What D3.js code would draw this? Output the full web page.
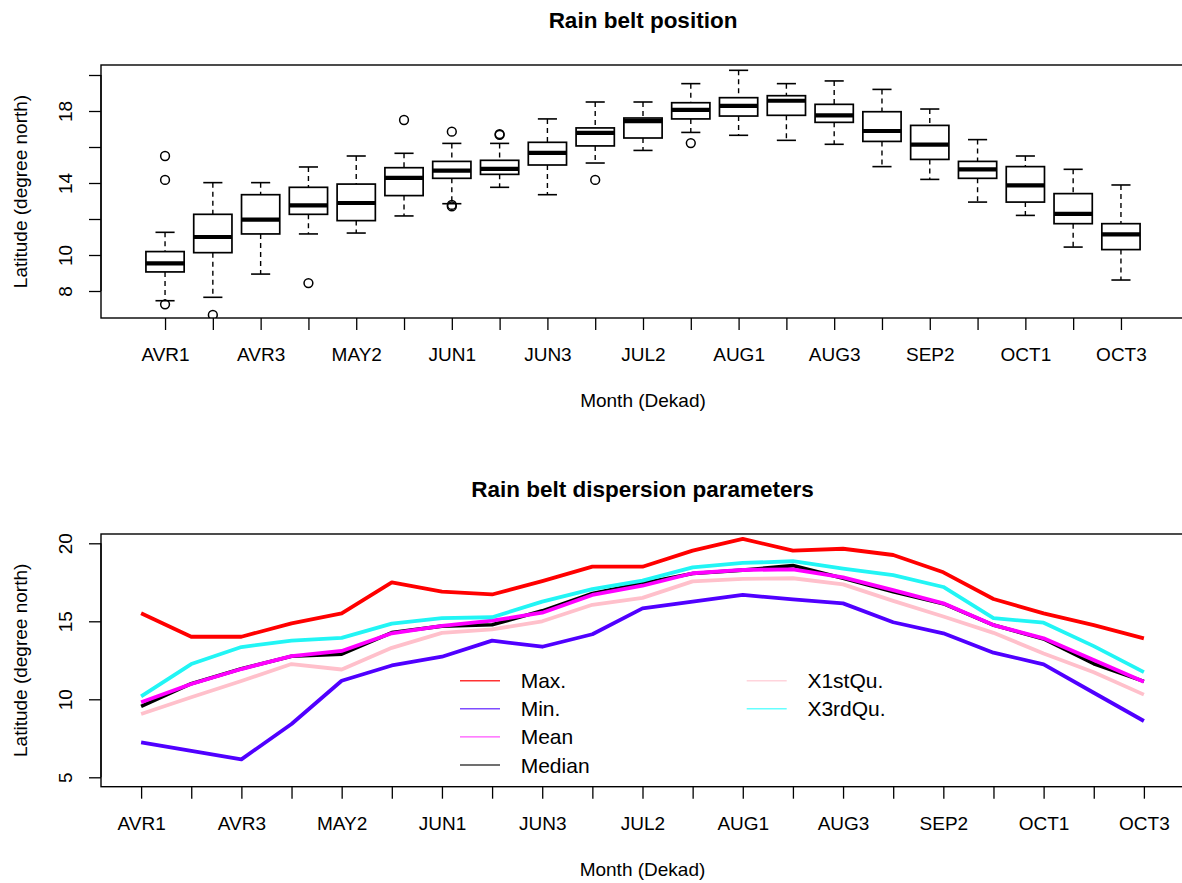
<!DOCTYPE html>
<html>
<head>
<meta charset="utf-8">
<script src="https://cdn.jsdelivr.net/npm/d3@7"></script>
<style>
  html, body { margin: 0; padding: 0; background: #fff; }
  svg { display: block; font-family: "Liberation Sans", Arial, Helvetica, sans-serif; }
</style>
</head>
<body>
<svg id="chart" width="1182" height="883"></svg>
<script>
// Dekads from April to October
const dekads = ["AVR1","AVR2","AVR3","MAY1","MAY2","MAY3","JUN1","JUN2","JUN3","JUL1","JUL2","JUL3",
                "AUG1","AUG2","AUG3","SEP1","SEP2","SEP3","OCT1","OCT2","OCT3"];

// Box plot statistics (latitude, degrees north)
const whiskerLow  = [7.46, 7.65, 8.94, 11.17, 11.22, 12.17, 12.85, 13.76, 13.35, 15.11, 15.81, 16.81, 16.65, 16.37, 16.15, 14.91, 14.20, 12.94, 12.20, 10.44, 8.61];
const q1          = [9.06, 10.13, 11.17, 12.26, 11.91, 13.30, 14.26, 14.48, 15.00, 16.06, 16.50, 17.56, 17.72, 17.76, 17.37, 16.31, 15.31, 14.26, 12.94, 11.74, 10.30];
const median      = [9.54, 11.00, 11.96, 12.76, 12.89, 14.28, 14.69, 14.78, 15.67, 16.78, 17.44, 18.06, 18.28, 18.57, 17.76, 16.89, 16.13, 14.76, 13.87, 12.28, 11.15];
const q3          = [10.19, 12.26, 13.35, 13.76, 13.94, 14.85, 15.20, 15.26, 16.26, 17.06, 17.61, 18.46, 18.74, 18.85, 18.37, 17.96, 17.20, 15.20, 14.91, 13.41, 11.74];
const whiskerHigh = [11.26, 14.02, 14.02, 14.89, 15.50, 15.65, 16.20, 16.20, 17.56, 18.50, 18.50, 19.52, 20.26, 19.52, 19.67, 19.20, 18.11, 16.41, 15.50, 14.76, 13.89];
// Outliers as [dekad index, latitude]
const outliers = [[0, 15.50], [0, 14.17], [0, 7.26], [1, 6.67], [2, 6.15], [3, 8.44], [5, 17.50],
                  [6, 16.85], [6, 12.78], [6, 12.70], [7, 16.72], [7, 16.67], [9, 14.17], [11, 16.22]];

// Dispersion parameters
const maxVals  = [15.51, 14.01, 14.01, 14.87, 15.51, 17.50, 16.90, 16.72, 17.58, 18.50, 18.50, 19.53, 20.28, 19.53, 19.65, 19.25, 18.14, 16.43, 15.51, 14.76, 13.91];
const minVals  = [7.24, 6.69, 6.15, 8.42, 11.19, 12.17, 12.73, 13.76, 13.37, 14.17, 15.83, 16.26, 16.69, 16.40, 16.15, 14.94, 14.23, 12.99, 12.24, 10.42, 8.61];
const meanVals = [9.81, 10.98, 11.94, 12.77, 13.10, 14.23, 14.70, 15.04, 15.55, 16.69, 17.28, 18.08, 18.29, 18.33, 17.82, 17.00, 16.15, 14.76, 13.91, 12.52, 11.13];

// Axis ticks
const topYTicks = [8, 10, 12, 14, 16, 18, 20];
const topYLabels = [8, 10, 14, 18];
const bottomYTicks = [5, 10, 15, 20];
const xLabelEvery = 2;

const series = [
  { name: "Min.",    values: minVals,  color: "#5000ff", legendColor: "#7f4dff" },
  { name: "X1stQu.", values: q1,       color: "#ffc0cb", legendColor: "#ffd4dc" },
  { name: "Median",  values: median,   color: "#000000", legendColor: "#404040" },
  { name: "Mean",    values: meanVals, color: "#ff00ff", legendColor: "#ff55ff" },
  { name: "X3rdQu.", values: q3,       color: "#22f5f5", legendColor: "#66ffff" },
  { name: "Max.",    values: maxVals,  color: "#ff0000", legendColor: "#ff3333" }
];
const legendOrder = ["Max.", "Min.", "Mean", "Median", "X1stQu.", "X3rdQu."];

const svg = d3.select("#chart");
svg.append("rect").attr("width", 1182).attr("height", 883).attr("fill", "#fff");

const FS = 19;
const idx = d3.range(1, dekads.length + 1);

// ---------- Panel 1: box plots ----------
const p1 = { left: 101, right: 1185, top: 65, bottom: 318 };
const x1 = d3.scaleLinear().domain([-0.34, dekads.length + 1.34]).range([p1.left, p1.right]);
const y1 = d3.scaleLinear().domain([8, 18]).range([291, 111]);

svg.append("clipPath").attr("id", "clip1")
  .append("rect").attr("x", p1.left).attr("y", p1.top)
  .attr("width", p1.right - p1.left).attr("height", p1.bottom - p1.top);

const g1 = svg.append("g").attr("clip-path", "url(#clip1)");
const boxW = 0.8 * (x1(2) - x1(1));
const capW = boxW / 2;

dekads.forEach((d, i) => {
  const cx = x1(i + 1);
  const g = g1.append("g");
  // dashed whiskers
  g.append("line").attr("x1", cx).attr("x2", cx).attr("y1", y1(whiskerHigh[i])).attr("y2", y1(q3[i]))
    .attr("stroke", "#000").attr("stroke-width", 1.4).attr("stroke-dasharray", "5,4");
  g.append("line").attr("x1", cx).attr("x2", cx).attr("y1", y1(q1[i])).attr("y2", y1(whiskerLow[i]))
    .attr("stroke", "#000").attr("stroke-width", 1.4).attr("stroke-dasharray", "5,4");
  // staples
  [whiskerHigh[i], whiskerLow[i]].forEach(v => {
    g.append("line").attr("x1", cx - capW / 2).attr("x2", cx + capW / 2)
      .attr("y1", y1(v)).attr("y2", y1(v)).attr("stroke", "#000").attr("stroke-width", 1.6);
  });
  // box
  g.append("rect").attr("x", cx - boxW / 2).attr("y", y1(q3[i]))
    .attr("width", boxW).attr("height", y1(q1[i]) - y1(q3[i]))
    .attr("fill", "#fff").attr("stroke", "#000").attr("stroke-width", 1.7);
  // median
  g.append("line").attr("x1", cx - boxW / 2).attr("x2", cx + boxW / 2)
    .attr("y1", y1(median[i])).attr("y2", y1(median[i]))
    .attr("stroke", "#000").attr("stroke-width", 4.2);
});

g1.selectAll("circle.out").data(outliers).join("circle")
  .attr("class", "out")
  .attr("cx", d => x1(d[0] + 1)).attr("cy", d => y1(d[1])).attr("r", 4.4)
  .attr("fill", "none").attr("stroke", "#000").attr("stroke-width", 1.5);

// frame
svg.append("rect").attr("x", p1.left).attr("y", p1.top)
  .attr("width", p1.right - p1.left).attr("height", p1.bottom - p1.top)
  .attr("fill", "none").attr("stroke", "#000").attr("stroke-width", 1.4);

function drawXAxis(xs, yBase) {
  const ax = d3.axisBottom(xs).tickValues(idx).tickSize(12)
    .tickFormat((d, i) => (i % xLabelEvery === 0 ? dekads[d - 1] : ""));
  const g = svg.append("g").attr("transform", `translate(0,${yBase})`).call(ax);
  g.select(".domain").remove();
  g.selectAll(".tick line").attr("stroke", "#000").attr("stroke-width", 1.3);
  g.selectAll(".tick text").attr("y", 43).attr("dy", 0)
    .attr("font-size", FS).attr("fill", "#000").attr("font-family", null);
  return g;
}

function drawYAxis(ys, ticks, labels) {
  const ax = d3.axisLeft(ys).tickValues(ticks).tickSize(12)
    .tickFormat(d => (labels.includes(d) ? String(d) : ""));
  const g = svg.append("g").attr("transform", "translate(101,0)").call(ax);
  g.select(".domain").remove();
  g.selectAll(".tick line").attr("stroke", "#000").attr("stroke-width", 1.3);
  g.selectAll(".tick text").attr("transform", "rotate(-90)")
    .attr("x", 0).attr("y", -29).attr("dy", 0).attr("text-anchor", "middle")
    .attr("font-size", FS).attr("fill", "#000").attr("font-family", null);
  // axis line from first to last tick
  g.append("line").attr("x1", 0).attr("x2", 0)
    .attr("y1", ys(ticks[0])).attr("y2", ys(ticks[ticks.length - 1]))
    .attr("stroke", "#000").attr("stroke-width", 1.3);
  return g;
}

drawXAxis(x1, p1.bottom);
drawYAxis(y1, topYTicks, topYLabels);

function titles(panel, title, titleBaseline) {
  const cx = (panel.left + panel.right) / 2;
  svg.append("text").attr("x", cx).attr("y", titleBaseline)
    .attr("text-anchor", "middle").attr("font-weight", "bold").attr("font-size", 22.5)
    .text(title);
  svg.append("text").attr("x", cx).attr("y", panel.bottom + 89)
    .attr("text-anchor", "middle").attr("font-size", FS).text("Month (Dekad)");
  const cy = (panel.top + panel.bottom) / 2;
  svg.append("text").attr("transform", `translate(27,${cy}) rotate(-90)`)
    .attr("text-anchor", "middle").attr("font-size", FS).text("Latitude (degree north)");
}
titles(p1, "Rain belt position", 27.5);

// ---------- Panel 2: dispersion lines ----------
const p2 = { left: 101, right: 1184, top: 534, bottom: 786.7 };
const x2 = d3.scaleLinear().domain([0.2, dekads.length + 0.8]).range([p2.left, p2.right]);
const y2 = d3.scaleLinear().domain([5, 20]).range([777.3, 543.3]);

svg.append("clipPath").attr("id", "clip2")
  .append("rect").attr("x", p2.left).attr("y", p2.top)
  .attr("width", p2.right - p2.left).attr("height", p2.bottom - p2.top);
const g2 = svg.append("g").attr("clip-path", "url(#clip2)");

const line = d3.line().x((d, i) => x2(i + 1)).y(d => y2(d));
series.forEach(s => {
  g2.append("path").attr("d", line(s.values)).attr("fill", "none")
    .attr("stroke", s.color).attr("stroke-width", s.name === "Median" ? 3.6 : 3.8)
    .attr("stroke-linejoin", "round");
});

svg.append("rect").attr("x", p2.left).attr("y", p2.top)
  .attr("width", p2.right - p2.left).attr("height", p2.bottom - p2.top)
  .attr("fill", "none").attr("stroke", "#000").attr("stroke-width", 1.4);

drawXAxis(x2, p2.bottom);
drawYAxis(y2, bottomYTicks, bottomYTicks);
titles(p2, "Rain belt dispersion parameters", 497);

// legend (two columns, four rows max)
const legend = svg.append("g");
const colX = [460, 746.7];
const rowY0 = 680.7, rowStep = 28.1;
legendOrder.forEach((name, k) => {
  const s = series.find(t => t.name === name);
  const col = Math.floor(k / 4), row = k % 4;
  const lx = colX[col], ly = rowY0 + row * rowStep;
  legend.append("line").attr("x1", lx).attr("x2", lx + 40).attr("y1", ly).attr("y2", ly)
    .attr("stroke", s.legendColor).attr("stroke-width", 1.4);
  legend.append("text").attr("x", lx + 60.7).attr("y", ly).attr("dy", "0.36em")
    .attr("font-size", 21).text(name);
});
</script>
</body>
</html>
